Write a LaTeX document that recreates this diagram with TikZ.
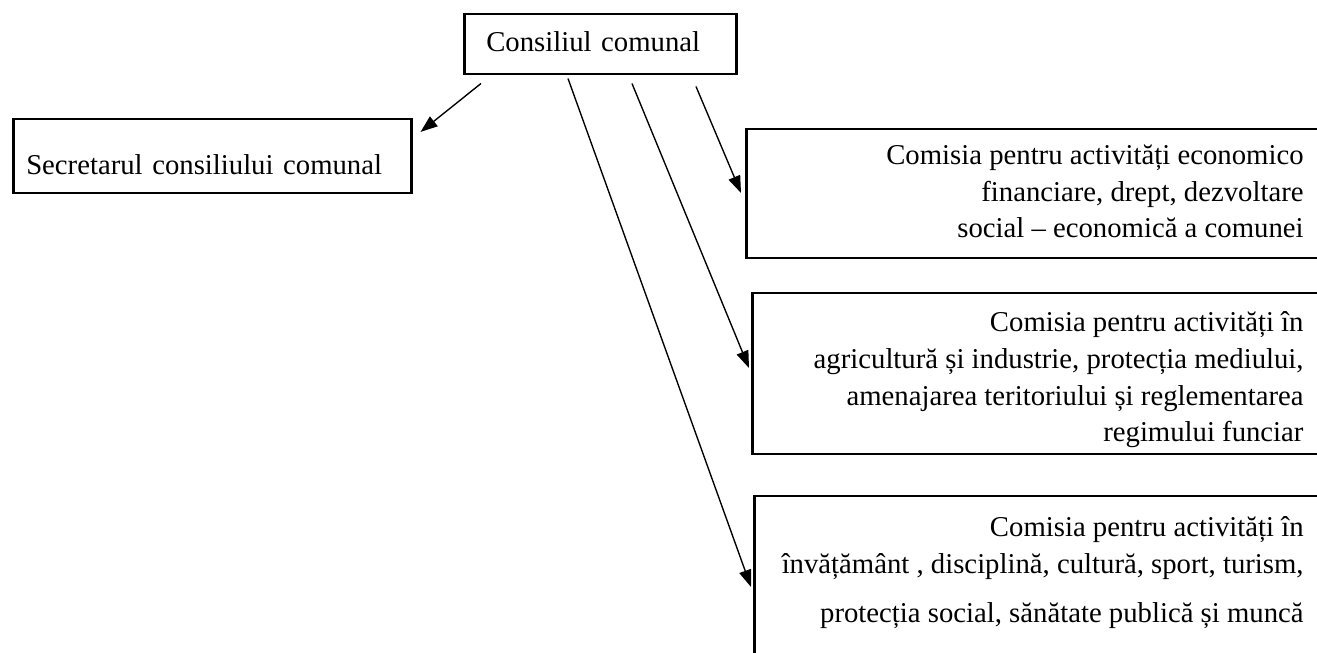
\documentclass[tikz,border=0pt]{standalone}
\usepackage{fontspec}
\setmainfont{Liberation Serif}
\usetikzlibrary{arrows.meta,calc}

\def\pu{0.4386pt}

\tikzset{
    box/.style={draw, line width=1.1pt, anchor=north west, align=left},
    frame/.style={draw, line width=1.1pt, anchor=north west, inner sep=0pt, minimum width=600*\pu},
    txt/.style={anchor=base east, align=right, inner sep=0pt},
    arr/.style={line width=0.6pt, -{Triangle[length=7.5pt,width=5.4pt]}}
}

\begin{document}
\begin{tikzpicture}[x=0.4386pt, y=-0.4386pt, font=\fontsize{12.6}{16.2}\selectfont]
        \useasboundingbox (0,0) rectangle (1317,653);
        \clip (0,0) rectangle (1317,653);

        \node[box, minimum width=272*\pu, minimum height=60*\pu, text width=228*\pu,
              inner xsep=22*\pu, inner ysep=0pt, text height=8.5pt, text depth=2.3pt]
              (cons) at (463,13) {Consiliul comunal}; %Top box
        \node[box, minimum width=398*\pu, minimum height=74*\pu, text width=372*\pu,
              inner xsep=13*\pu, inner ysep=0pt, text height=17.8pt, text depth=2pt]
              (secr) at (12,118) {Secretarul consiliului comunal}; %Left box

        \node[frame, minimum height=129*\pu] (com1) at (745,128) {}; %Commission boxes, cut at the right
        \node[frame, minimum height=161*\pu] (com2) at (751,292) {};
        \node[frame, minimum height=200*\pu] (com3) at (753,495) {};

        \node[txt] (com1txt) at (1304,238)
            {Comisia pentru activități economico\\
             financiare, drept, dezvoltare\\
             social – economică a comunei};
        \node[txt] (com2txt) at (1304,442)
            {Comisia pentru activități în\\
             agricultură și industrie, protecția mediului,\\
             amenajarea teritoriului și reglementarea\\
             regimului funciar};
        \node[txt] (com3txt) at (1304,623)
            {Comisia pentru activități în\\
             învățământ , disciplină, cultură, sport, turism,\\[5.7pt]
             protecția social, sănătate publică și muncă};

        \draw[arr] ($(cons.south west)+(18,8)$) -- ($(secr.north east)+(8,14)$); %to secretary
        \draw[arr] ($(cons.south west)+(233,11)$) -- ($(com1.north west)+(-4,65)$);
        \draw[arr] ($(cons.south west)+(169,8)$) -- ($(com2.north west)+(-2,76)$);
        \draw[arr] ($(cons.south west)+(105,3)$) -- ($(com3.north west)+(-2,92)$);
\end{tikzpicture}
\end{document}
